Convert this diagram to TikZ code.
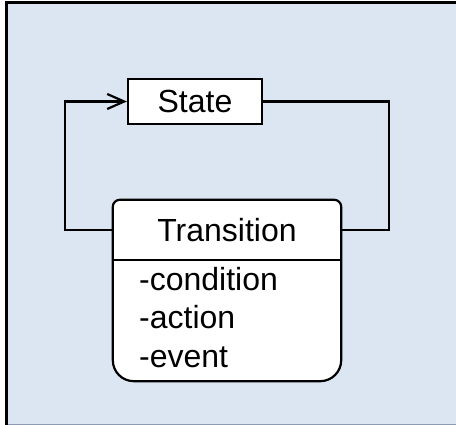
\documentclass[tikz,border=0pt]{standalone}
\usepackage{fontspec}
\setmainfont{Liberation Sans}
\usetikzlibrary{arrows.meta}

\definecolor{bgblue}{HTML}{DCE6F2}
\definecolor{edgegray}{HTML}{8C9BB0}

\tikzset{
  box/.style={draw, line width=2.2pt, fill=white, inner sep=0pt},
  link/.style={line width=2.2pt},
  attr/.style={anchor=base west, inner sep=0pt}
}

\begin{document}
\begin{tikzpicture}[x=1pt, y=-1pt, >={Straight Barb[length=17pt,width=15pt,line width=2.2pt]}]
        \useasboundingbox (0,0) rectangle (456,425);
        \fontsize{32}{38}\selectfont

        % Background frame
        \fill[bgblue] (6,2) rectangle (456,425);
        \draw[line width=3pt] (456,2.5) -- (6.5,2.5) -- (6.5,425);
        \draw[edgegray, line width=1pt] (8,424.5) -- (456,424.5);

        % State
        \node[box, minimum width=134pt, minimum height=45pt] (state) at (195,101.5) {State};

        % Transition
        \node[minimum width=228pt, minimum height=181pt, inner sep=0pt] (trans) at (227,290.5) {};
        \draw[line width=2.2pt, fill=white] (trans.west)
            [rounded corners=7pt] |- (trans.north) -| (trans.east)
            [rounded corners=21pt] |- (trans.south) -| (trans.west) -- cycle;
        \node[minimum width=228pt, minimum height=60pt, inner sep=0pt, anchor=north] (head) at (trans.north) {Transition};
        \draw[link] (head.south west) -- (head.south east);
        \foreach \name/\txt/\y in {cond/condition/291, act/action/329, evt/event/367}
            \node[attr] (\name) at (139,\y) {-\txt};

        % Connectors
        \draw[link, ->] (head.west) -- ++(-48,0) |- (state.west);
        \draw[link] (state.east) -- ++(126,0) |- (head.east);

\end{tikzpicture}
\end{document}
